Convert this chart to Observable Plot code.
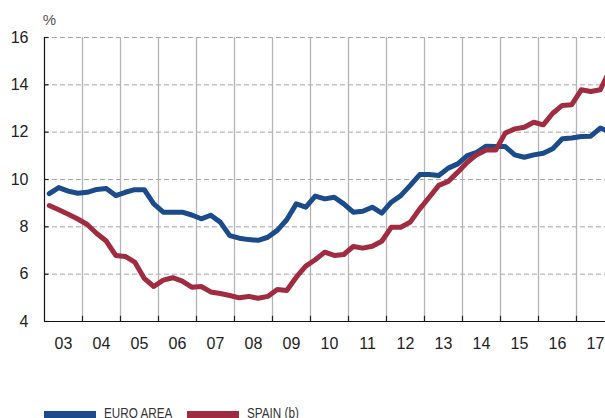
<!DOCTYPE html>
<html>
<head>
<meta charset="utf-8">
<script src="https://cdn.jsdelivr.net/npm/d3@7"></script>
<script src="https://cdn.jsdelivr.net/npm/@observablehq/plot@0.6"></script>
<style>
  html, body { margin: 0; padding: 0; background: #fff; }
  body { width: 605px; height: 418px; overflow: hidden; position: relative; font-family: "Liberation Sans", Arial, sans-serif; }
  #chart svg { display: block; }
  .sw { position: absolute; height: 8px; width: 52px; }
  .lt { position: absolute; font-family: "Liberation Sans", Arial, sans-serif; font-size: 15px; line-height: 15px; color: #333; white-space: nowrap; transform: scaleX(0.78); transform-origin: left top; }
</style>
</head>
<body>
<div id="chart"></div>
<div id="legend"></div>
<script>
const startYear = 2003;
const yearLabels = ["03","04","05","06","07","08","09","10","11","12","13","14","15","16","17"];
const yTicks = [4, 6, 8, 10, 12, 14, 16];
const seriesNames = ["EURO AREA", "SPAIN (b)"];
const seriesColors = ["#1c4b8c", "#a12b41"];

// quarterly values, 2003 Q1 to 2017 Q4
const euroArea = [
  9.40, 9.66, 9.51, 9.42,
  9.46, 9.58, 9.62, 9.32,
  9.46, 9.57, 9.57, 8.97,
  8.62, 8.62, 8.62, 8.50,
  8.34, 8.49, 8.20, 7.63,
  7.52, 7.46, 7.43, 7.56,
  7.85, 8.30, 8.97, 8.83,
  9.30, 9.18, 9.25, 8.97,
  8.62, 8.66, 8.83, 8.58,
  9.04, 9.32, 9.75, 10.21,
  10.21, 10.17, 10.48, 10.66,
  11.01, 11.15, 11.41, 11.39,
  11.39, 11.04, 10.94, 11.04,
  11.11, 11.30, 11.72, 11.75,
  11.82, 11.83, 12.17, 12.02
];
const spain = [
  8.90, 8.72, 8.53, 8.33,
  8.10, 7.72, 7.40, 6.79,
  6.75, 6.51, 5.82, 5.48,
  5.75, 5.85, 5.71, 5.45,
  5.48, 5.25, 5.18, 5.10,
  5.00, 5.06, 4.98, 5.06,
  5.35, 5.31, 5.87, 6.34,
  6.61, 6.93, 6.79, 6.83,
  7.17, 7.10, 7.18, 7.39,
  7.98, 7.98, 8.20, 8.76,
  9.25, 9.75, 9.92, 10.31,
  10.73, 11.05, 11.25, 11.25,
  11.96, 12.14, 12.21, 12.42,
  12.31, 12.80, 13.13, 13.16,
  13.79, 13.72, 13.79, 14.60
];

const toRows = (vals) => vals.map((v, i) => ({ t: startYear + (i + 0.5) / 4, v }));
const euroRows = toRows(euroArea);
const spainRows = toRows(spain);
const boundaries = d3.range(startYear + 1, startYear + yearLabels.length);
const labelPos = yearLabels.map((_, i) => startYear + i + 0.5);

const chart = Plot.plot({
  width: 605,
  height: 398,
  marginLeft: 44,
  marginTop: 37,
  marginBottom: 77,
  marginRight: 0,
  x: { domain: [startYear, startYear + yearLabels.length], range: [44, 614] },
  y: { domain: [4, 16] },
  style: { fontFamily: "Liberation Sans, Arial, sans-serif", fontSize: "16px", color: "#222", background: "transparent" },
  marks: [
    Plot.ruleY(yTicks.filter(d => d > 4), { stroke: "#a6a6a6", strokeDasharray: "5,3", strokeWidth: 1 }),
    Plot.ruleX(boundaries, { stroke: "#b3b3b8", strokeWidth: 1.3 }),
    Plot.ruleX(boundaries, { y1: 4, y2: 4.22, stroke: "#222", strokeWidth: 1.2 }),
    Plot.ruleY(yTicks, { x1: startYear, x2: startYear + 0.12, stroke: "#222", strokeWidth: 1.2 }),
    Plot.axisY({ ticks: yTicks, tickSize: 0, tickPadding: 16, label: null, fontSize: 16 }),
    Plot.axisX({ ticks: labelPos, tickSize: 0, tickPadding: 16, label: null, fontSize: 16,
                 tickFormat: d => yearLabels[Math.floor(d) - startYear] }),
    Plot.line(euroRows, { x: "t", y: "v", stroke: seriesColors[0], strokeWidth: 5 }),
    Plot.line(spainRows, { x: "t", y: "v", stroke: seriesColors[1], strokeWidth: 5 }),
    Plot.ruleX([startYear], { stroke: "#111", strokeWidth: 1.2 }),
    Plot.ruleY([4], { stroke: "#111", strokeWidth: 1.2 }),
    Plot.text(["%"], { x: startYear + 0.13, y: 16, dy: -17, text: d => d, fill: "#555", fontSize: 15, textAnchor: "middle" })
  ]
});
document.getElementById("chart").appendChild(chart);

const legend = document.getElementById("legend");
const swX = [44, 187];
const txX = [104, 247];
seriesNames.forEach((name, i) => {
  const sw = document.createElement("div");
  sw.className = "sw";
  sw.style.left = swX[i] + "px";
  sw.style.top = "411px";
  sw.style.background = seriesColors[i];
  legend.appendChild(sw);
  const tx = document.createElement("div");
  tx.className = "lt";
  tx.style.left = txX[i] + "px";
  tx.style.top = "405px";
  tx.textContent = name;
  legend.appendChild(tx);
});
</script>
</body>
</html>
